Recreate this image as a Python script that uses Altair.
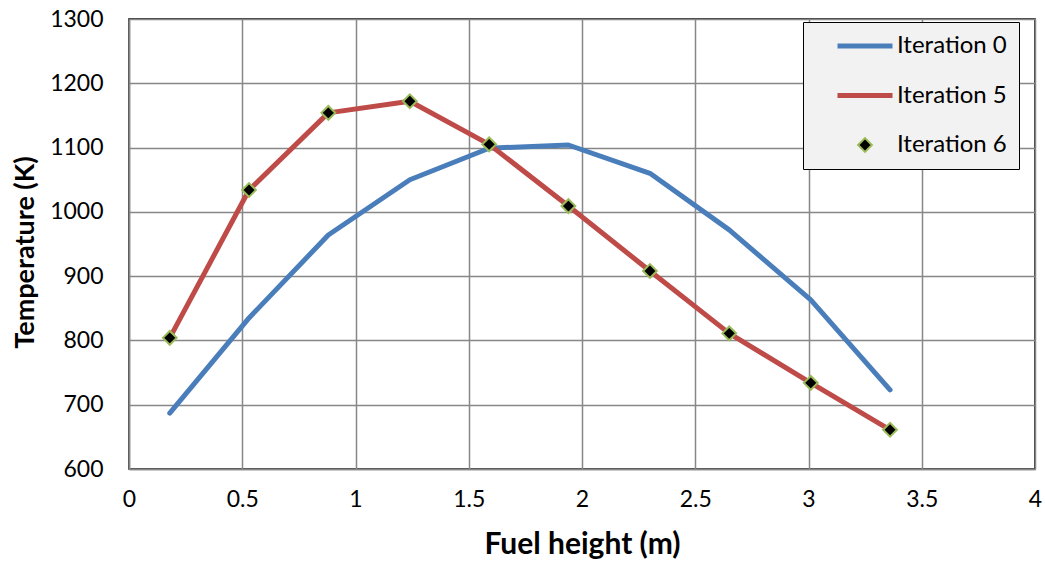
import altair as alt
import pandas as pd

x_vals = [0.18, 0.53, 0.88, 1.24, 1.59, 1.94, 2.30, 2.65, 3.01, 3.36]
iter0 = [687, 835, 964, 1050, 1099, 1104, 1060, 972, 863, 723]
iter5 = [804, 1034, 1154, 1172, 1105, 1009, 908, 811, 734, 661]
iter6 = [804, 1034, 1154, 1172, 1105, 1009, 908, 811, 734, 661]
series_names = ["Iteration 0", "Iteration 5", "Iteration 6"]

rows = []
for name, vals in zip(series_names, [iter0, iter5, iter6]):
    for xv, yv in zip(x_vals, vals):
        rows.append({"series": name, "x": xv, "y": yv})
df = pd.DataFrame(rows)

FONT = "Lato"
BLUE = "#4a7ebb"
RED = "#be4b48"
GREEN = "#9bbb59"
LINE_SYMBOL = "M-5,0H5"

stroke_scale = alt.Scale(domain=series_names, range=[BLUE, RED, GREEN])
legend = alt.Legend(title=None, orient="none", legendX=674, legendY=3,
                    labelExpr="datum.label + '\u00a0\u00a0\u00a0'")

xenc = alt.X("x:Q", scale=alt.Scale(domain=[0, 4], nice=False),
             axis=alt.Axis(values=[0, 0.5, 1, 1.5, 2, 2.5, 3, 3.5, 4], format="~g",
                           title="Fuel height (m)", labelPadding=19, titlePadding=18,
                           titleFontSize=30, labelFlush=False))
yenc = alt.Y("y:Q", scale=alt.Scale(domain=[600, 1300], nice=False),
             axis=alt.Axis(values=list(range(600, 1301, 100)), format="d",
                           title="Temperature (K)", labelPadding=26, titlePadding=10,
                           titleFontSize=27, labelFlush=False, titleY=233))

base = alt.Chart(df)

lines = base.transform_filter(alt.datum.series != "Iteration 6").mark_line(
    strokeWidth=5, strokeCap="round", strokeJoin="round"
).encode(
    x=xenc, y=yenc,
    stroke=alt.Stroke("series:N", scale=stroke_scale, legend=legend),
)

points = base.transform_filter(alt.datum.series == "Iteration 6").mark_point(
    filled=True, opacity=1
).encode(
    x=xenc, y=yenc,
    stroke=alt.Stroke("series:N", scale=stroke_scale, legend=legend),
    fill=alt.Fill("series:N", scale=alt.Scale(domain=series_names, range=["transparent", "transparent", "black"]), legend=legend),
    shape=alt.Shape("series:N", scale=alt.Scale(domain=series_names, range=[LINE_SYMBOL, LINE_SYMBOL, "diamond"]), legend=legend),
    size=alt.Size("series:N", scale=alt.Scale(type="ordinal", domain=series_names, range=[121, 121, 190]), legend=legend),
    strokeWidth=alt.StrokeWidth("series:N", scale=alt.Scale(type="ordinal", domain=series_names, range=[5, 5, 2]), legend=legend),
)

chart = alt.layer(lines, points).properties(
    width=906, height=450,
    padding={"left": 129, "top": 19, "right": 10, "bottom": 97},
    autosize=alt.AutoSizeParams(type="none"),
).configure_view(
    stroke="black", strokeWidth=1.5
).configure_axis(
    labelFont=FONT, titleFont=FONT, labelFontSize=23,
    labelColor="black", titleColor="black", titleFontWeight="bold",
    grid=True, gridColor="#878787", gridWidth=1.5,
    domainColor="#878787", domainWidth=1.5, ticks=False,
).configure_legend(
    fillColor="#f2f2f2", strokeColor="black", padding=12,
    labelFont=FONT, labelFontSize=24, labelColor="black", rowPadding=25.5,
    labelOffset=20, gridAlign="all", symbolOffset=38,
)

chart.save("out.html", embed_options={"renderer": "svg", "actions": False})
